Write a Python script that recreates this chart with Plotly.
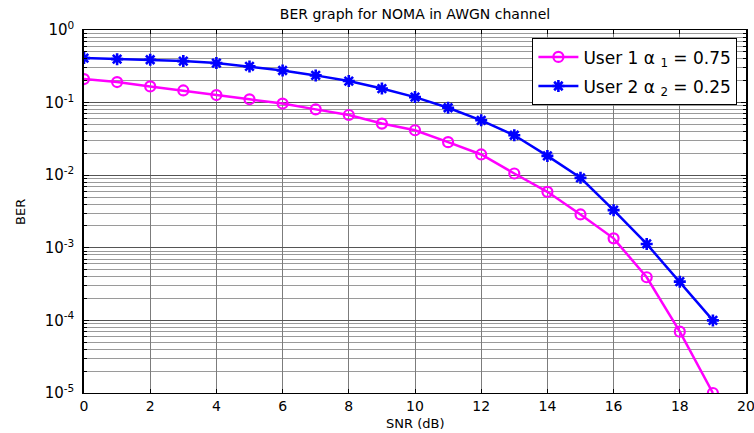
import plotly.graph_objects as go

# SNR values (dB)
snr_db = list(range(0, 20))

# Measured bit error rates
ber_user1 = [0.211, 0.192, 0.167, 0.147, 0.127, 0.111, 0.097, 0.0807, 0.0675, 0.0514,
             0.0416, 0.0285, 0.0193, 0.01055, 0.0059, 0.00288, 0.00135, 0.000393, 7.0e-5, 1.0e-5]
ber_user2 = [0.41, 0.397, 0.389, 0.373, 0.35, 0.315, 0.277, 0.237, 0.198, 0.156,
             0.119, 0.085, 0.057, 0.0355, 0.01845, 0.0092, 0.0033, 0.00113, 0.000342, 1.0e-4]

series_names = ["User 1 \u03b1 <sub>1</sub> = 0.75", "User 2 \u03b1 <sub>2</sub> = 0.25"]

x_ticks = [0, 2, 4, 6, 8, 10, 12, 14, 16, 18, 20]
y_exponents = [0, -1, -2, -3, -4, -5]

FONT = "DejaVu Sans"
GRID = "#7c7c7c"

fig = go.Figure()
fig.add_trace(go.Scatter(
    x=snr_db, y=ber_user1, name=series_names[0], mode="lines+markers", legendgroup="u1",
    line=dict(color="#ff00ff", width=2.5),
    marker=dict(symbol="circle-open", size=10, color="#ff00ff", line=dict(width=2.2, color="#ff00ff")),
))
fig.add_trace(go.Scatter(
    x=snr_db, y=ber_user2, name=series_names[1], mode="lines+markers", legendgroup="u2",
    line=dict(color="#0000ff", width=2.5),
    marker=dict(symbol="asterisk", size=10, color="#0000ff", line=dict(width=2.6, color="#0000ff")),
))

fig.update_layout(
    width=754, height=433,
    margin=dict(l=83.5, r=7.5, t=29.5, b=39.7, pad=0, autoexpand=False),
    paper_bgcolor="white", plot_bgcolor="white",
    font=dict(family=FONT, size=12, color="black"),
    title=dict(text="BER graph for NOMA in AWGN channel", x=0.5, xref="paper",
               y=1 - 14 / 433, yref="container", yanchor="middle",
               font=dict(family=FONT, size=14, color="black")),
    legend=dict(x=0.987, y=0.977, xanchor="right", yanchor="top",
                bgcolor="white", bordercolor="black", borderwidth=1,
                font=dict(family=FONT, size=17, color="black"),
                tracegroupgap=4, itemwidth=40),
    showlegend=True,
    annotations=[
        dict(text="SNR (dB)", xref="paper", yref="paper", x=0.5, y=-0.083,
             xanchor="center", yanchor="middle", showarrow=False,
             font=dict(family=FONT, size=13, color="black")),
        dict(text="BER", xref="paper", yref="paper", x=-0.096, y=0.5, textangle=-90,
             xanchor="center", yanchor="middle", showarrow=False,
             font=dict(family=FONT, size=13, color="black")),
    ],
)

fig.update_xaxes(
    range=[0, 20], tickvals=x_ticks, ticktext=[str(v) for v in x_ticks],
    showline=True, linecolor="black", linewidth=1, mirror="allticks",
    ticks="inside", ticklen=4, tickcolor="black",
    showgrid=True, gridcolor=GRID, gridwidth=1,
    zeroline=False, ticklabeloverflow="allow", automargin=False,
    tickfont=dict(family=FONT, size=14), ticklabelstandoff=0,
)

fig.update_yaxes(
    type="log", range=[-5, 0],
    tickvals=[10 ** e for e in y_exponents],
    ticktext=[f"10<sup>{e}</sup>" for e in y_exponents],
    showline=True, linecolor="black", linewidth=1.5, mirror="allticks",
    ticks="inside", ticklen=5, tickcolor="black",
    showgrid=True, gridcolor="#555555", gridwidth=1,
    minor=dict(dtick="D1", showgrid=True, gridcolor="#9a9a9a", gridwidth=1,
               ticks="inside", ticklen=3, tickcolor="black"),
    zeroline=False, automargin=False,
    tickfont=dict(family=FONT, size=15),
    ticklabelstandoff=5,
)

fig.write_html("out.html")
